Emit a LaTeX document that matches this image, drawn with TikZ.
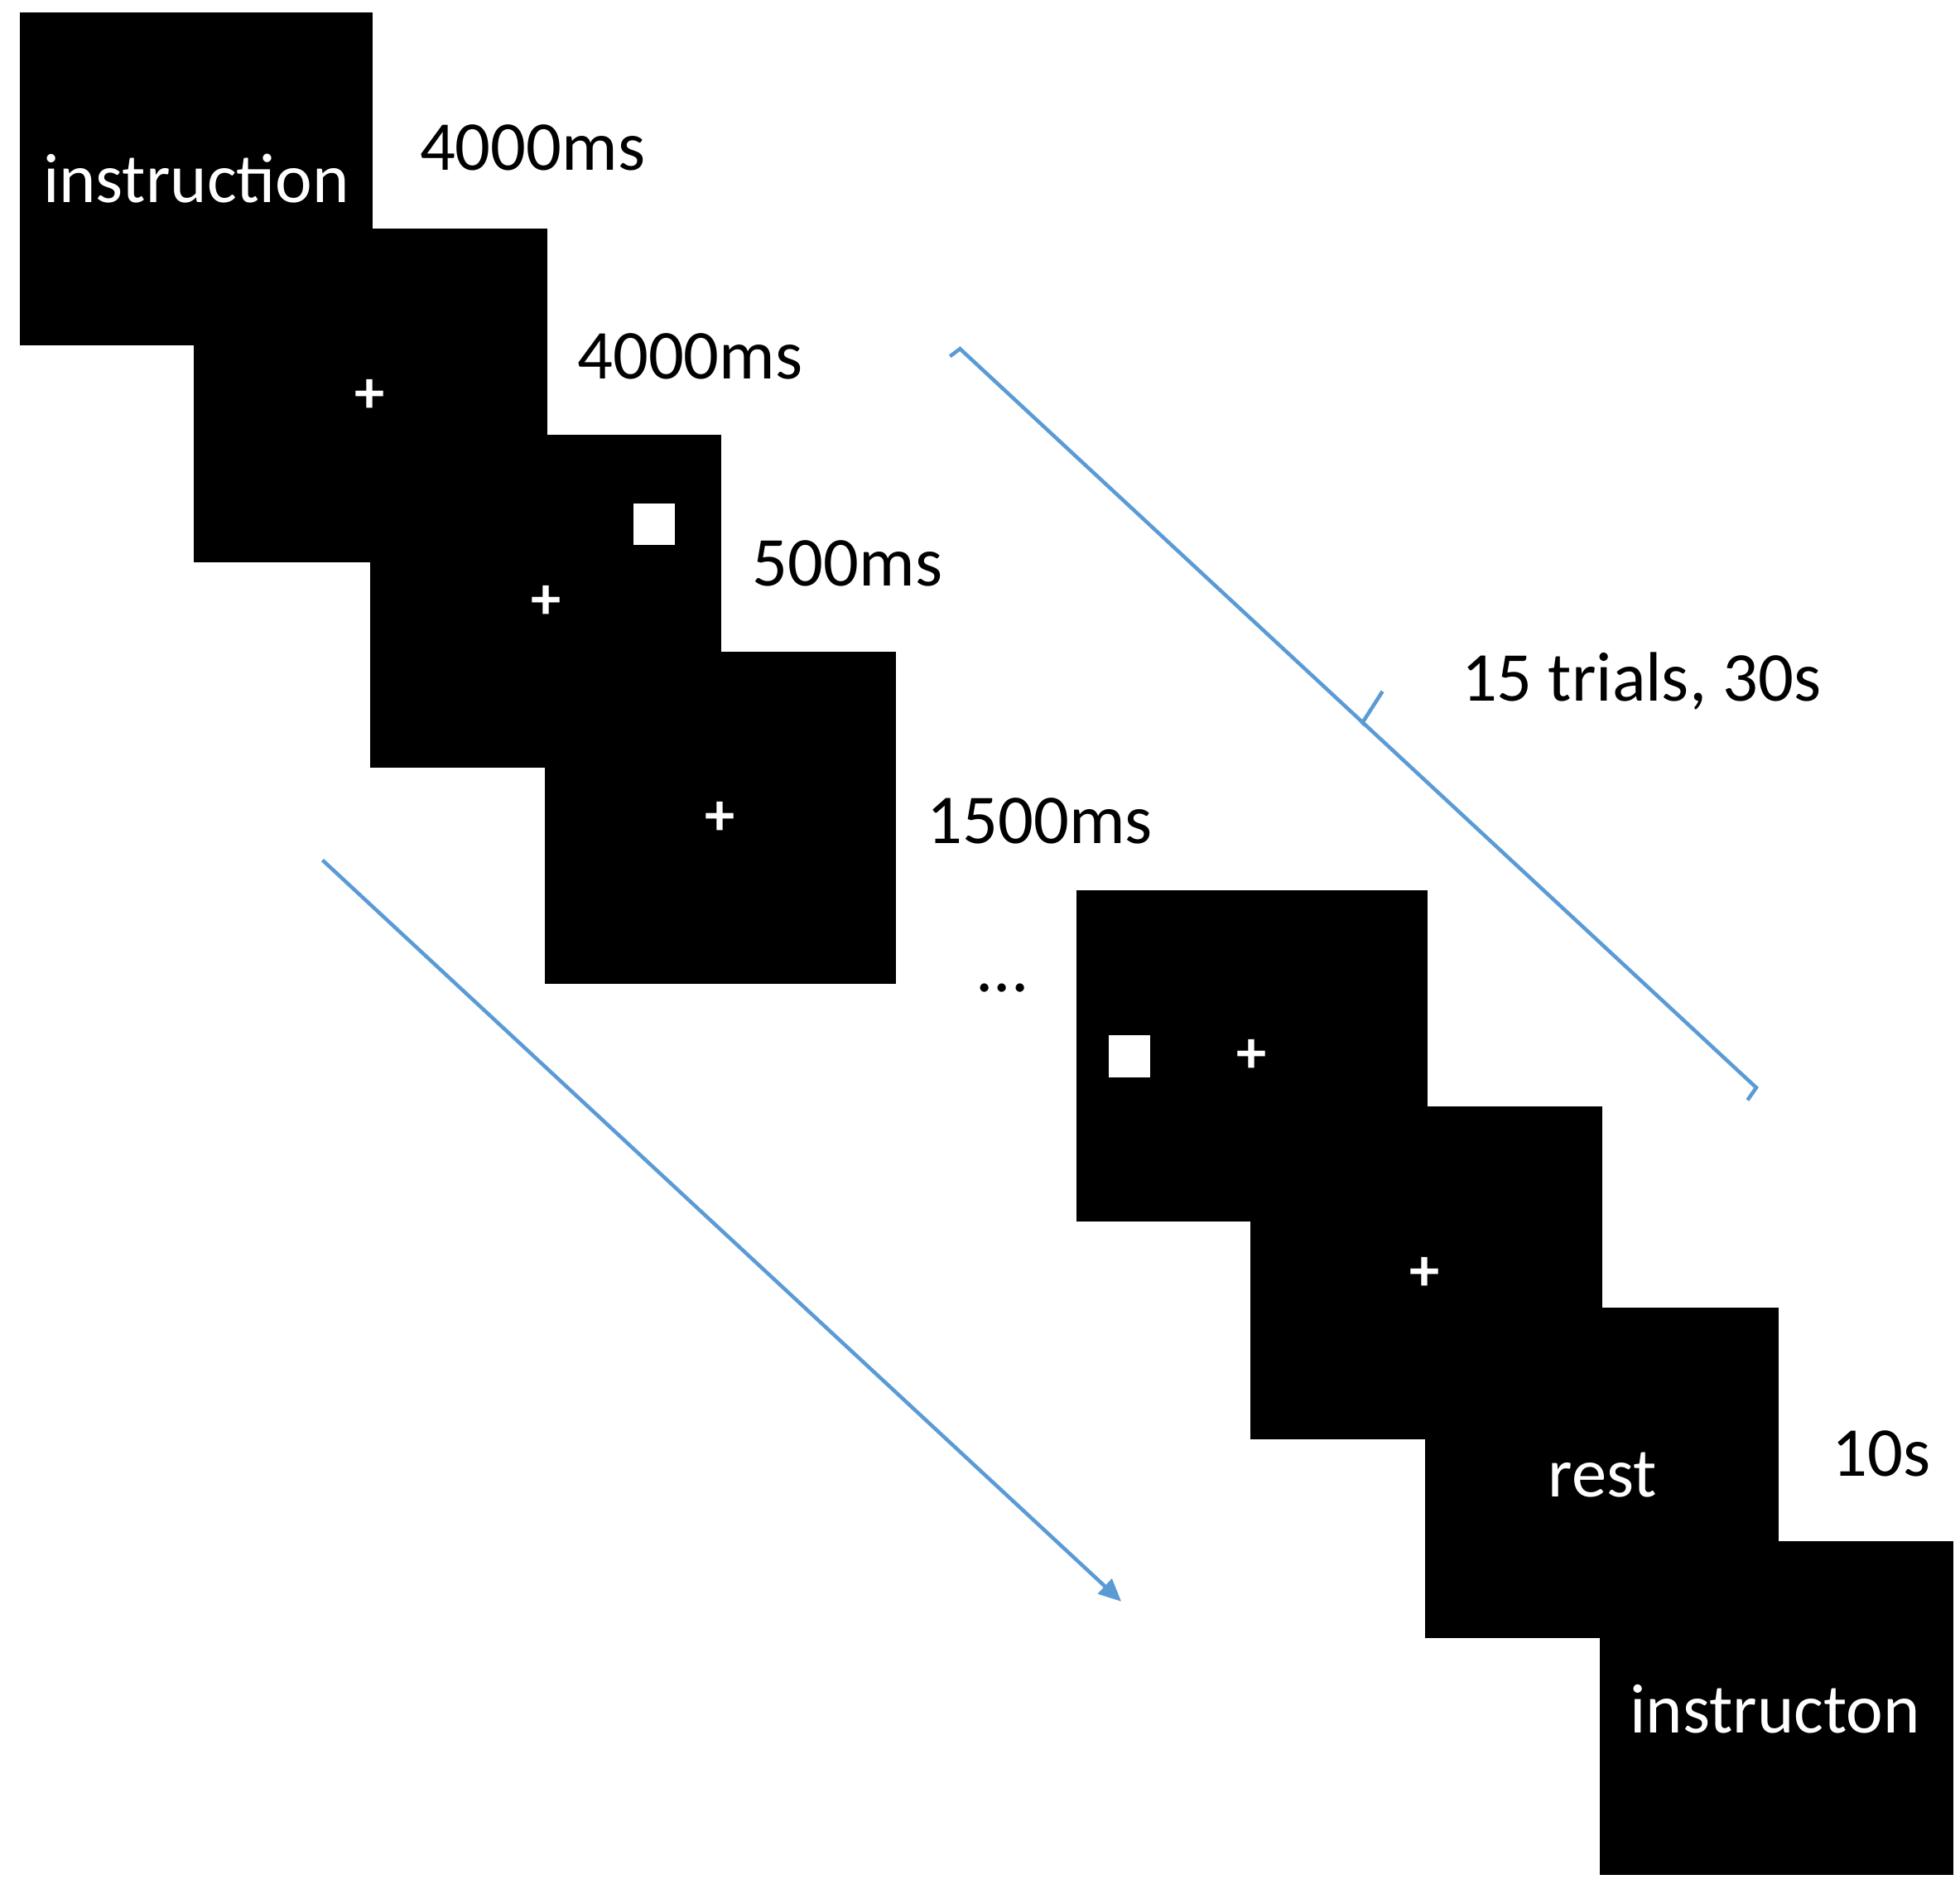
\documentclass[tikz,border=0pt]{standalone}
\usepackage{fontspec}
\setmainfont{Carlito}
\usetikzlibrary{arrows.meta}
\definecolor{lblue}{RGB}{91,155,213}
\begin{document}
\begin{tikzpicture}[x=0.5pt,y=-0.5pt,
  scr/.style={fill=black,draw=none},
  lab/.style={font=\fontsize{28}{32}\selectfont,inner sep=0pt},
  wlab/.style={lab,text=white},
  plus/.style={font=\fontsize{24}{28}\selectfont\bfseries,text=white,inner sep=0pt},
  blue/.style={draw=lblue,line width=1.5pt}]
\useasboundingbox (0,0) rectangle (1568,1511);
\fill[scr] (16,10) rectangle (298,276);
\fill[scr] (155,183) rectangle (438,450);
\fill[scr] (296,348) rectangle (577,614);
\fill[scr] (436,521) rectangle (717,787);
\fill[scr] (861,712) rectangle (1142,977);
\fill[scr] (1000,885) rectangle (1282,1151);
\fill[scr] (1140,1046) rectangle (1423,1310);
\fill[scr] (1280,1233) rectangle (1563,1500);
\fill[white] (507,403) rectangle (540,436);
\fill[white] (887,828) rectangle (920,862);
\node[wlab] (t1) at (157,143) {instruction};
\node[plus] (p1) at (296,317) {+};
\node[plus] (p2) at (437,482) {+};
\node[plus] (p3) at (576,655) {+};
\node[plus] (p4) at (1001,845) {+};
\node[plus] (p5) at (1140,1019) {+};
\node[wlab] (t2) at (1282,1180) {rest};
\node[wlab] (t3) at (1420,1367) {instructon};
\node[lab] (l1) at (426,118) {4000ms};
\node[lab] (l2) at (552,285) {4000ms};
\node[lab] (l3) at (678,451) {500ms};
\node[lab] (l4) at (832,657) {1500ms};
\node[lab] (l5) at (1313,545) {15 trials, 30s};
\node[lab] (l6) at (1505,1163) {10s};
\node[lab] (dots) at (802,790) {...};
\coordinate (a1) at (258,688);
\coordinate (a2) at (897,1281);
\draw[blue,-{Triangle[length=9pt,width=8pt]}] (a1) -- (a2);
\coordinate (b0) at (760,285);
\coordinate (b1) at (768,279);
\coordinate (bm) at (1092,580);
\coordinate (bt) at (1106,553);
\coordinate (b2) at (1405,870);
\coordinate (b3) at (1398,880);
\draw[blue] (b0) -- (b1) -- (b2) -- (b3);
\draw[blue] (bm) -- (1090,578) -- (bt);
\end{tikzpicture}
\end{document}
